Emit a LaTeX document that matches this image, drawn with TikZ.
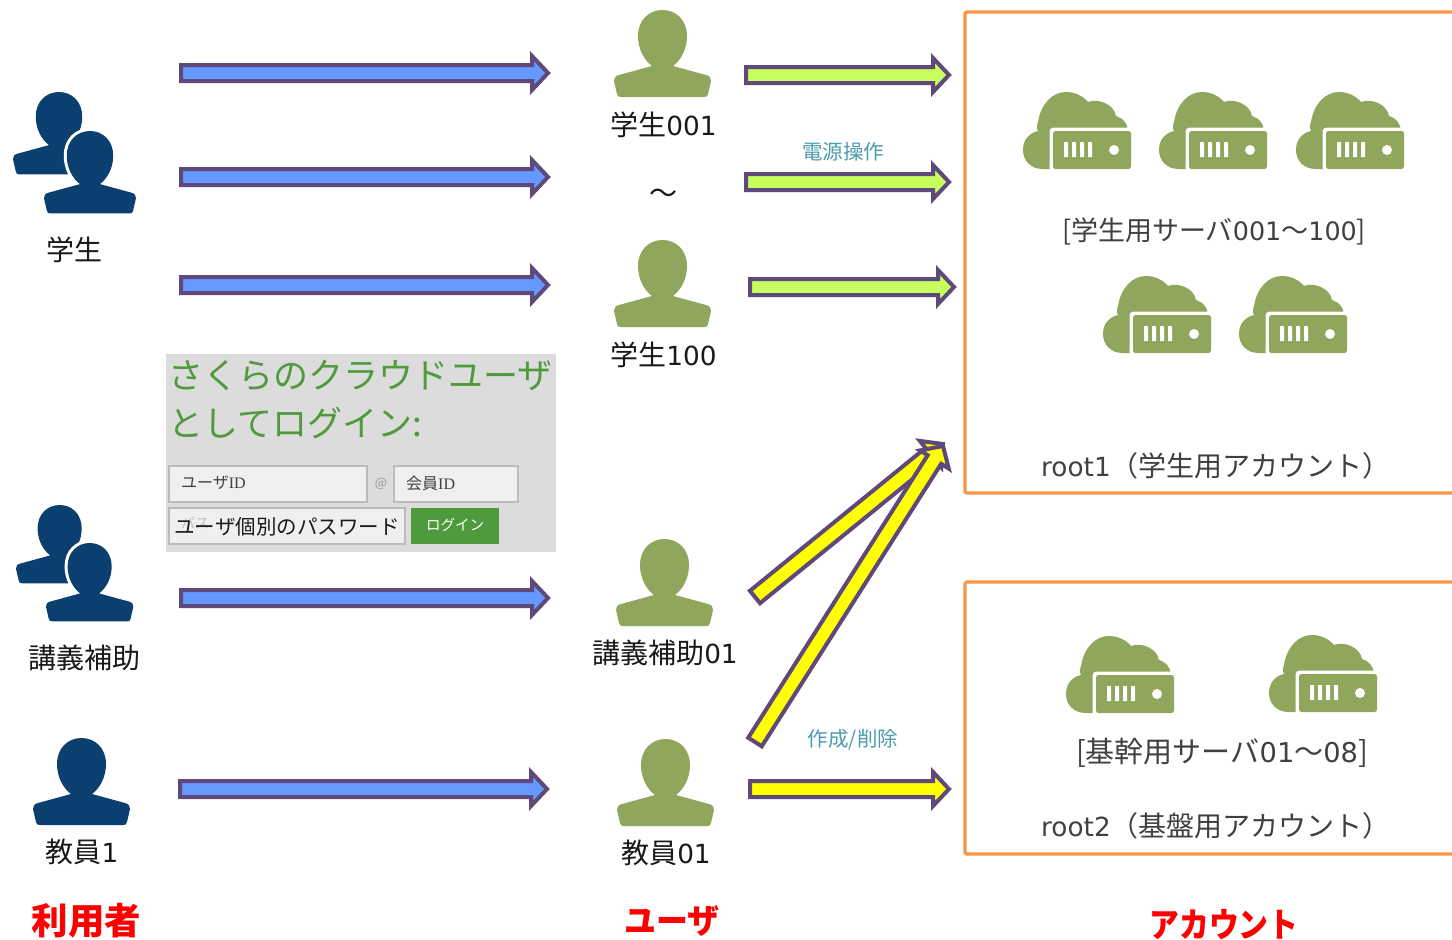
\documentclass[tikz,border=0pt]{standalone}
\usepackage{fontspec}
\setmainfont{Noto Sans CJK JP}
\newfontfamily\latn{DejaVu Sans}[Scale=0.94]
\newfontfamily\idfont{Liberation Serif}
\usetikzlibrary{calc}
\definecolor{navy}{HTML}{0B3F70}
\definecolor{olive}{HTML}{8FA65C}
\definecolor{arrowedge}{HTML}{5F497A}
\definecolor{bluefill}{HTML}{6699FF}
\definecolor{limefill}{HTML}{C6FF5E}
\definecolor{yellowfill}{HTML}{FFFF00}
\definecolor{redtext}{HTML}{FF0000}
\definecolor{orangeedge}{HTML}{F79646}
\definecolor{tealtext}{HTML}{4B9BB0}
\definecolor{loginbg}{HTML}{DCDCDC}
\definecolor{logingreen}{HTML}{4F9A3C}
\definecolor{fieldbg}{HTML}{EFEFEF}
\definecolor{fieldedge}{HTML}{BBBBBB}
\definecolor{darkgray}{HTML}{404040}
\newcommand{\fs}[1]{\fontsize{#1}{#1}\selectfont}
\newcommand{\personshape}{
  (38,56) -- (5,65) .. controls (1,66) and (0,68) .. (0,71)
  -- (3,84) .. controls (3.5,86.5) and (4.5,87) .. (7,87)
  -- (90,87) .. controls (92.5,87) and (93.5,86.5) .. (94,84)
  -- (97,71) .. controls (97,68) and (96,66) .. (92,65)
  -- (59,56) .. controls (67,50) and (73,39) .. (73,26)
  .. controls (73,10) and (62,0) .. (48.5,0)
  .. controls (35,0) and (24,10) .. (24,26)
  .. controls (24,39) and (30,50) .. (38,56) -- cycle}
\newcommand{\person}[4]{% x,y,scale,colour
  \fill[#4,shift={(#1,#2)},scale=#3] \personshape;}
\newcommand{\frontperson}[4]{%
  \draw[white,shift={(#1,#2)},scale=#3,line width=6pt] \personshape;
  \fill[#4,shift={(#1,#2)},scale=#3] \personshape;}
\newcommand{\serverpic}[2]{%
  \begin{scope}[shift={(#1,#2)}]
    \fill[olive] (20,77) .. controls (8,77) and (0,69) .. (0,58)
      .. controls (0,48) and (6,41) .. (15,39)
      .. controls (13,35) and (14,32) .. (15,30)
      .. controls (18,11) and (30,0) .. (43,0)
      .. controls (52,0) and (60,4) .. (65,10)
      .. controls (75,6) and (91,12) .. (93,24)
      .. controls (100,26) and (104,31) .. (105,38)
      -- (105,77) -- cycle;
    \fill[white,rounded corners=4pt] (26.5,35.5) rectangle (110,80);
    \fill[olive,rounded corners=2.5pt] (30,39) rectangle (108,77);
    \fill[white] (41,50) rectangle ++(4,15) (49,50) rectangle ++(4,15)
                 (57,50) rectangle ++(4,15) (65,50) rectangle ++(4,15);
    \fill[white] (91,58) circle (5);
  \end{scope}}
% from, to, fill colour
\newcommand{\blockarrow}[3]{%
  \draw[blockedge,fill=#3]
    let \p1=($(#2)!16pt!(#1)$) in
    ($(#1)!8pt!90:(#2)$) -- ($(\p1)!8pt!90:(#2)$) -- ($(\p1)!17pt!90:(#2)$) -- (#2)
    -- ($(\p1)!17pt!-90:(#2)$) -- ($(\p1)!8pt!-90:(#2)$) -- ($(#1)!8pt!-90:(#2)$) -- cycle;}
\tikzset{
  blockedge/.style={draw=arrowedge,line width=4pt,miter limit=10},
  label28/.style={inner sep=0,text=black!90,font=\fs{28}},
  grey28/.style={inner sep=0,text=darkgray,font=\fs{28}},
  teal21/.style={inner sep=0,text=tealtext,font=\fs{20.5}},
  redhead/.style={inner sep=0,text=redtext,font=\fs{34}\bfseries},
  titletext/.style={inner sep=0,anchor=west,text=logingreen,font=\fs{35}},
  field/.style={draw=fieldedge,fill=fieldbg,line width=1.2pt},
  fieldtext/.style={inner sep=0,anchor=west,text=darkgray,font=\fs{16}},
  orangebox/.style={draw=orangeedge,line width=3.2pt,rounded corners=1.5pt}
}
\begin{document}
\begin{tikzpicture}[x=1pt,y=-1pt]
\useasboundingbox (0,0) rectangle (1452,940);
\fill[white] (0,0) rectangle (1452,940);

% account boxes
\draw[orangebox] (1454,12) -- (965,12) -- (965,493) -- (1454,493);
\draw[orangebox] (1454,582) -- (965,582) -- (965,854) -- (1454,854);

% people on the left
\person{13}{92}{0.948}{navy}
\frontperson{44}{131}{0.948}{navy}
\person{16}{505}{0.9}{navy}
\frontperson{46}{543}{0.9}{navy}
\person{33}{738}{1}{navy}

% user icons
\person{614}{10}{1}{olive}
\person{614}{240}{1}{olive}
\person{616}{539}{1}{olive}
\person{617}{739}{1}{olive}

% servers
\serverpic{1023}{92}
\serverpic{1159}{92}
\serverpic{1296}{92}
\serverpic{1103}{276}
\serverpic{1239}{276}
\serverpic{1066}{636}
\serverpic{1269}{635}

% login panel
\fill[loginbg] (166,354) rectangle (556,552);
\node[titletext] (t1) at (168,376) {さくらのクラウドユーザ};
\node[titletext] (t2) at (168,423) {としてログイン:};
\draw[field] (169,466) rectangle (367,502);
\node[fieldtext] (uid) at (181,483) {ユーザ{\idfont ID}};
\node[inner sep=0,text=black!40,font=\fs{13}] (atm) at (381,484) {@};
\draw[field] (394,466) rectangle (518,502);
\node[fieldtext] (mid) at (406,483) {会員{\idfont ID}};
\draw[field] (169,508) rectangle (405,544);
\node[inner sep=0,anchor=west,text=black!25,font=\fs{14}] (ph) at (181,523) {パス};
\node[inner sep=0,anchor=center,text=black!90,font=\fs{20.5}] (pw) at (287,527) {ユーザ個別のパスワード};
\fill[logingreen] (411,508) rectangle (499,544);
\node[inner sep=0,text=white,font=\fs{14.5}] (lg) at (455,525) {ログイン};

% arrows: blue
\coordinate (b1a) at (181,73);  \coordinate (b1b) at (548,73);
\coordinate (b2a) at (181,177); \coordinate (b2b) at (548,177);
\coordinate (b3a) at (181,285); \coordinate (b3b) at (548,285);
\coordinate (b4a) at (181,598); \coordinate (b4b) at (548,598);
\coordinate (b5a) at (180,789); \coordinate (b5b) at (547,789);
\blockarrow{b1a}{b1b}{bluefill}
\blockarrow{b2a}{b2b}{bluefill}
\blockarrow{b3a}{b3b}{bluefill}
\blockarrow{b4a}{b4b}{bluefill}
\blockarrow{b5a}{b5b}{bluefill}

% arrows: green
\coordinate (g1a) at (746,75);  \coordinate (g1b) at (949,75);
\coordinate (g2a) at (746,182); \coordinate (g2b) at (949,182);
\coordinate (g3a) at (750,287); \coordinate (g3b) at (954,287);
\blockarrow{g1a}{g1b}{limefill}
\blockarrow{g2a}{g2b}{limefill}
\blockarrow{g3a}{g3b}{limefill}

% arrows: yellow
\coordinate (y1a) at (755,597); \coordinate (y1b) at (943,444);
\coordinate (y2a) at (755,742); \coordinate (y2b) at (943,446);
\coordinate (y3a) at (750,789); \coordinate (y3b) at (949,789);
\blockarrow{y1a}{y1b}{yellowfill}
\blockarrow{y2a}{y2b}{yellowfill}
\blockarrow{y3a}{y3b}{yellowfill}

% labels
\node[label28] (lstu) at (74,249.5) {学生};
\node[label28] (lta) at (84,658) {講義補助};
\node[label28] (lte) at (82,852) {教員{\latn 1}};
\node[label28] (u1) at (663.5,125) {学生{\latn 001}};
\node[label28] (til) at (663,196) {～};
\node[label28] (u2) at (663.5,355) {学生{\latn 100}};
\node[label28] (u3) at (665,653) {講義補助{\latn 01}};
\node[label28] (u4) at (666,853) {教員{\latn 01}};
\node[teal21] (op1) at (843,152) {電源操作};
\node[teal21] (op2) at (853,740) {作成/削除};
\node[grey28,font=\fs{27}] (s1) at (1214,231.5) {[学生用サーバ{\latn 001}～{\latn 100}]};
\node[grey28,font=\fs{29}] (s2) at (1222,753) {[基幹用サーバ{\latn 01}～{\latn 08}]};
\node[grey28,anchor=west] (r1) at (1041,466) {{\latn root1}（学生用アカウント）};
\node[grey28,anchor=west] (r2) at (1041,826) {{\latn root2}（基盤用アカウント）};
\node[redhead,font=\fs{36.5}\bfseries] (h1) at (86.5,921) {利用者};
\node[redhead,xscale=0.94] (h2) at (672,921) {ユーザ};
\node[redhead,xscale=0.88] (h3) at (1224,925) {アカウント};
\end{tikzpicture}
\end{document}
